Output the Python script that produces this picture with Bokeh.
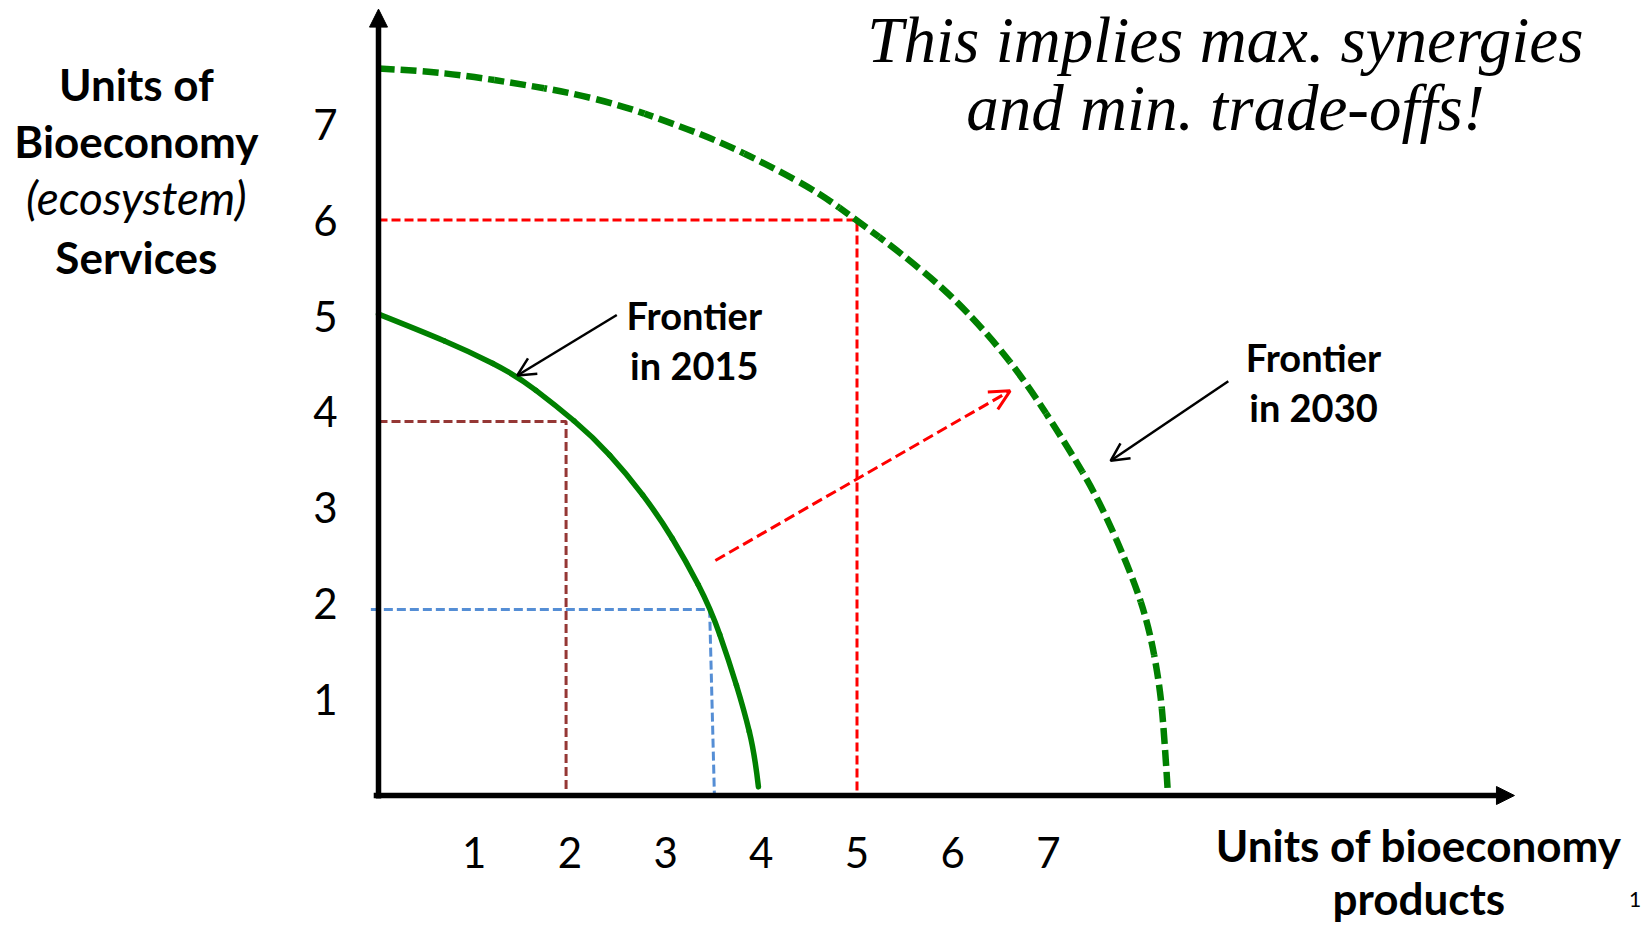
from bokeh.plotting import figure
from bokeh.models import Range1d, Arrow, NormalHead, OpenHead, ColumnDataSource
from bokeh.embed import file_html
from bokeh.resources import INLINE
from bokeh.core.properties import value

# ---------------- data ----------------
tick_values = [1, 2, 3, 4, 5, 6, 7]
tick_labels = ["1", "2", "3", "4", "5", "6", "7"]

# Production possibility frontier in 2015 (solid)
frontier_2015_x = [0.00, 0.43, 0.95, 1.44, 1.85, 2.24, 2.59, 2.93, 3.21, 3.47, 3.66, 3.82, 3.93, 3.97]
frontier_2015_y = [5.02, 4.85, 4.63, 4.38, 4.07, 3.74, 3.36, 2.91, 2.45, 1.95, 1.41, 0.89, 0.44, 0.09]

# Production possibility frontier in 2030 (dashed)
frontier_2030_x = [0.00, 0.43, 0.95, 1.47, 1.99, 2.52, 3.04, 3.56, 4.08, 4.61, 5.02, 5.44,
                   5.96, 6.42, 6.77, 7.18, 7.53, 7.88, 8.05, 8.16, 8.21, 8.25]
frontier_2030_y = [7.58, 7.56, 7.50, 7.42, 7.33, 7.20, 7.02, 6.82, 6.57, 6.28, 5.98, 5.67,
                   5.24, 4.75, 4.30, 3.67, 3.08, 2.28, 1.76, 1.17, 0.65, 0.00]

# Guide points (products, services)
red_guide_x = [0.00, 5.00, 5.00]
red_guide_y = [6.00, 6.00, 0.00]
brown_guide_x = [0.00, 1.96, 1.96]
brown_guide_y = [3.90, 3.90, 0.00]
blue_guide_x = [-0.08, 3.46, 3.51]
blue_guide_y = [1.94, 1.94, 0.00]

# Shift arrow (frontier moves outward)
shift_start = (3.52, 2.45)
shift_end = (6.60, 4.22)

y_title_lines = ["Units of", "Bioeconomy", "(ecosystem)", "Services"]
x_title_lines = ["Units of bioeconomy", "products"]
title_lines = ["This implies max. synergies", "and min. trade-offs!"]

# ---------------- layout ----------------
W, H = 1643, 926
OX, OY = 378, 795                  # origin in canvas pixels
UX, UY = 95.7, 95.9                # pixels per unit
DASH_ON, DASH_OFF = 16, 6

p = figure(width=W, height=H, output_backend="svg", toolbar_location=None,
           x_range=Range1d(-OX / UX, (W - OX) / UX),
           y_range=Range1d(-(H - OY) / UY, OY / UY),
           x_axis_type=None, y_axis_type=None, min_border=0)
p.grid.visible = False
p.outline_line_color = None
p.background_fill_color = "white"
p.border_fill_color = "white"

LATO = value("Lato")


def smooth_segments(xs, ys):
    """Quadratic pieces through midpoints, controlled by the read points,
    with the dash phase carried from one piece to the next."""
    n = len(xs) - 1
    d = dict(x0=[], y0=[], x1=[], y1=[], cx=[], cy=[], dash_offset=[])
    run = 0.0
    period = DASH_ON + DASH_OFF
    for i in range(1, n):
        sx = xs[0] if i == 1 else (xs[i - 1] + xs[i]) / 2
        sy = ys[0] if i == 1 else (ys[i - 1] + ys[i]) / 2
        ex = xs[n] if i == n - 1 else (xs[i] + xs[i + 1]) / 2
        ey = ys[n] if i == n - 1 else (ys[i] + ys[i + 1]) / 2
        d["x0"].append(sx); d["y0"].append(sy); d["x1"].append(ex); d["y1"].append(ey)
        d["cx"].append(xs[i]); d["cy"].append(ys[i])
        d["dash_offset"].append(int(round(run)) % period)
        # pixel length of this piece (for the dash phase only)
        length, px, py = 0.0, sx * UX, sy * UY
        for k in range(1, 21):
            t = k / 20
            qx = ((1 - t) ** 2 * sx + 2 * (1 - t) * t * xs[i] + t * t * ex) * UX
            qy = ((1 - t) ** 2 * sy + 2 * (1 - t) * t * ys[i] + t * t * ey) * UY
            length += ((qx - px) ** 2 + (qy - py) ** 2) ** 0.5
            px, py = qx, qy
        run += length
    return d


# guide lines
p.line(red_guide_x, red_guide_y, line_color="#ff0000", line_width=3, line_dash="9 4")
p.line(brown_guide_x, brown_guide_y, line_color="#953735", line_width=3, line_dash="9 4")
p.line(blue_guide_x, blue_guide_y, line_color="#558ed5", line_width=3, line_dash="9 4")

# frontiers
src15 = ColumnDataSource(smooth_segments(frontier_2015_x, frontier_2015_y))
p.quadratic(x0="x0", y0="y0", x1="x1", y1="y1", cx="cx", cy="cy", source=src15,
            line_color="#008000", line_width=5.5, line_cap="round")
src30 = ColumnDataSource(smooth_segments(frontier_2030_x, frontier_2030_y))
p.quadratic(x0="x0", y0="y0", x1="x1", y1="y1", cx="cx", cy="cy", source=src30,
            line_color="#008000", line_width=6.5, line_dash=f"{DASH_ON} {DASH_OFF}",
            line_dash_offset="dash_offset", line_cap="butt")

# axes as arrows
p.add_layout(Arrow(x_start=0, y_start=-0.03, x_end=0, y_end=8.2, line_color="black", line_width=5.5,
                   end=NormalHead(size=18, fill_color="black", line_color="black", line_width=1)))
p.add_layout(Arrow(x_start=-0.05, y_start=0, x_end=11.87, y_end=0, line_color="black", line_width=5.5,
                   end=NormalHead(size=18, fill_color="black", line_color="black", line_width=1)))

# shift arrow
p.add_layout(Arrow(x_start=shift_start[0], y_start=shift_start[1], x_end=shift_end[0], y_end=shift_end[1],
                   line_color="#ff0000", line_width=3, line_dash="11 5",
                   end=OpenHead(size=20, line_color="#ff0000", line_width=3)))

# label pointer arrows
p.add_layout(Arrow(x_start=2.49, y_start=5.01, x_end=1.45, y_end=4.38, line_color="black", line_width=2.5,
                   end=OpenHead(size=18, line_color="black", line_width=2.5)))
p.add_layout(Arrow(x_start=8.88, y_start=4.32, x_end=7.65, y_end=3.49, line_color="black", line_width=2.5,
                   end=OpenHead(size=18, line_color="black", line_width=2.5)))

# tick labels
p.text(x=tick_values, y=[-0.59] * len(tick_values), text=tick_labels, text_font=LATO,
       text_font_size="42px", text_align="center", text_baseline="middle", text_color="black")
p.text(x=[-0.554] * len(tick_values), y=tick_values, text=tick_labels, text_font=LATO,
       text_font_size="42px", text_align="center", text_baseline="middle", text_color="black")

# y title
yt_y = [7.414, 6.820, 6.236, 5.620]
p.text(x=[-2.53] * 2, y=[yt_y[0], yt_y[1]], text=y_title_lines[:2], text_font=LATO, text_font_style="bold",
       text_font_size="44px", text_align="center", text_baseline="middle")
p.text(x=[-2.53], y=[yt_y[2]], text=[y_title_lines[2]], text_font=LATO, text_font_style="italic",
       text_font_size="46px", text_align="center", text_baseline="middle")
p.text(x=[-2.53], y=[yt_y[3]], text=[y_title_lines[3]], text_font=LATO, text_font_style="bold",
       text_font_size="44px", text_align="center", text_baseline="middle")

# x title
p.text(x=[10.87, 10.87], y=[-0.511, -1.074], text=x_title_lines, text_font=LATO, text_font_style="bold",
       text_font_size="44px", text_align="center", text_baseline="middle")

# frontier labels
p.text(x=[3.30, 3.30], y=[5.008, 4.487], text=["Frontier", "in 2015"], text_font=LATO,
       text_font_style="bold", text_font_size="38px", text_align="center", text_baseline="middle")
p.text(x=[9.77, 9.77], y=[4.574, 4.052], text=["Frontier", "in 2030"], text_font=LATO,
       text_font_style="bold", text_font_size="38px", text_align="center", text_baseline="middle")

# headline
p.text(x=[8.85, 8.85], y=[7.883, 7.169], text=title_lines, text_font=value("Liberation Serif"),
       text_font_style="italic", text_font_size="65px", text_align="center", text_baseline="middle")

# slide number
p.text(x=[13.13], y=[-1.084], text=["1"], text_font=LATO, text_font_size="21px",
       text_align="center", text_baseline="middle")

open("out.html", "w").write(file_html(p, INLINE))
